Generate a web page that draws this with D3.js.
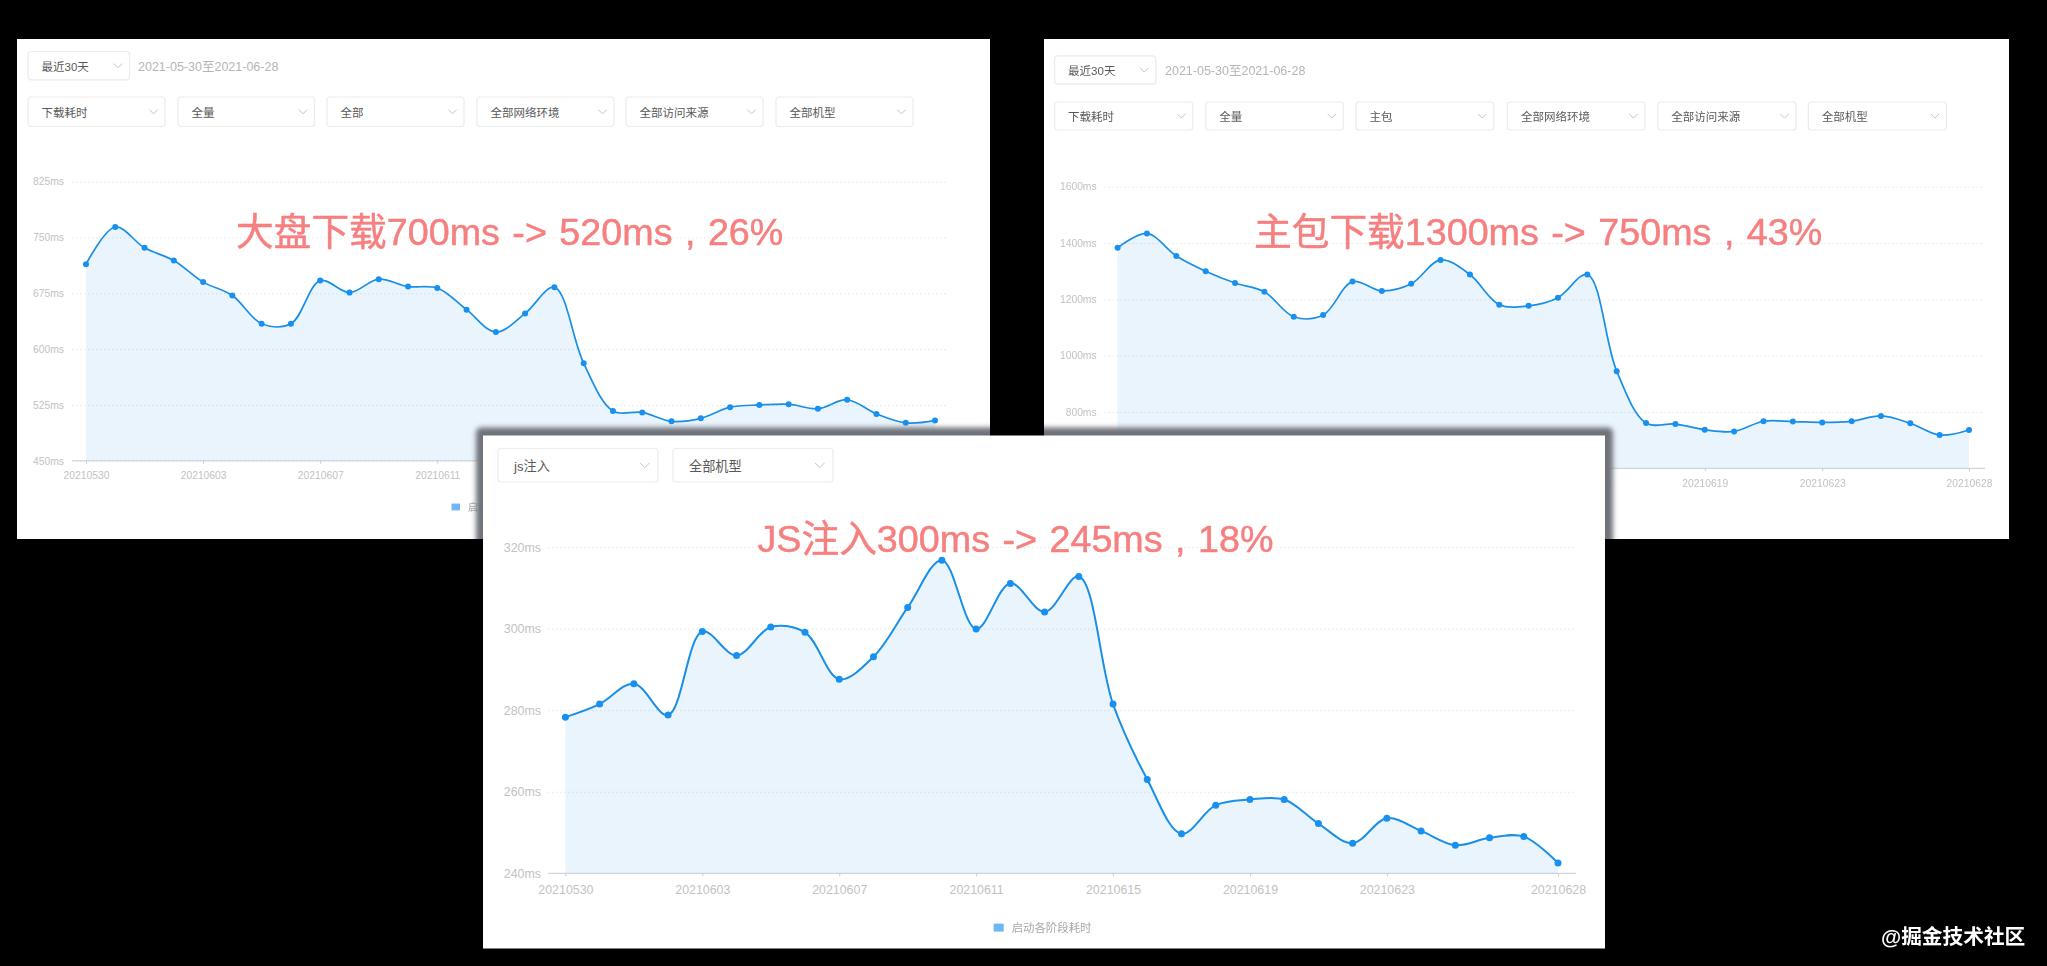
<!DOCTYPE html>
<html><head><meta charset="utf-8">
<script src="https://cdn.jsdelivr.net/npm/d3@7"></script>
<style>html,body{margin:0;padding:0;background:#000;overflow:hidden}svg{display:block;filter:blur(0.45px)}
text{font-family:"Liberation Sans","Noto Sans CJK SC",sans-serif}</style></head>
<body><svg id="c" width="2047" height="966"></svg>
<script>
const dates=["20210530","20210531","20210601","20210602","20210603","20210604","20210605","20210606","20210607","20210608","20210609","20210610","20210611","20210612","20210613","20210614","20210615","20210616","20210617","20210618","20210619","20210620","20210621","20210622","20210623","20210624","20210625","20210626","20210627","20210628"];
const xTickLabels=["20210530","20210603","20210607","20210611","20210615","20210619","20210623","20210628"];
const seriesName="启动各阶段耗时";
const dateRange="2021-05-30至2021-06-28";
const periodFilter="最近30天";

const overallValues=[714,764,736,719,690,672,634,634,692,676,694,684,682,653,623,648,683,581,517,515,503,507,522,525,526,520,532,513,501,504];
const overallTicks=[450,525,600,675,750,825];
const overallFilters=["下载耗时","全量","全部","全部网络环境","全部访问来源","全部机型"];
const overallNote="大盘下载700ms -> 520ms , 26%";

const mainValues=[1383,1434,1354,1300,1258,1227,1138,1144,1263,1230,1255,1340,1288,1181,1177,1206,1288,945,761,757,737,731,767,766,763,767,786,760,718,736];
const mainTicks=[600,800,1000,1200,1400,1600];
const mainFilters=["下载耗时","全量","主包","全部网络环境","全部访问来源","全部机型"];
const mainNote="主包下载1300ms -> 750ms , 43%";

const jsValues=[278.3,281.5,286.5,278.8,299.3,293.4,300.4,299.1,287.6,293.1,305.2,316.8,299.9,311.1,304.1,312.8,281.5,263,249.7,256.7,258.1,258.1,252.2,247.4,253.5,250.4,246.9,248.7,249,242.5];
const jsTicks=[240,260,280,300,320];
const jsFilters=["js注入","全部机型"];
const jsNote="JS注入300ms -> 245ms , 18%";

const svg=d3.select("#c");
const defs=svg.append("defs");
defs.append("filter").attr("id","sh").attr("x","-5%").attr("y","-8%").attr("width","110%").attr("height","116%")
  .append("feGaussianBlur").attr("stdDeviation",2.8);
const clip=defs.append("clipPath").attr("id","onPanels");

function dropdown(g,x0,x1,y0,y1,label,fs,textX){
  g.append("rect").attr("x",x0).attr("y",y0).attr("width",x1-x0).attr("height",y1-y0).attr("rx",3)
    .attr("fill","#fff").attr("stroke","#ececec").attr("stroke-width",1.2);
  g.append("text").attr("x",textX).attr("y",(y0+y1)/2+1).attr("dy","0.36em").attr("font-size",fs).attr("fill","#595959").text(label);
  const cx=x1-fs, w=fs*0.36;
  const cy=(y0+y1)/2;
  g.append("path").attr("d",`M${cx-w},${cy-w*0.5}L${cx},${cy+w*0.5}L${cx+w},${cy-w*0.5}`)
    .attr("fill","none").attr("stroke","#c4c4c4").attr("stroke-width",1);
}

function panel(o){
  const g=svg.append("g");
  const [L,T,R,B]=o.box;
  if(o.shadow){
    g.append("g").attr("clip-path","url(#onPanels)").append("rect")
      .attr("x",L-7).attr("y",T-8).attr("width",R-L+15).attr("height",B-T+16).attr("rx",5)
      .attr("fill","#6e7279").attr("filter","url(#sh)");
  } else {
    clip.append("rect").attr("x",L).attr("y",T).attr("width",R-L).attr("height",B-T);
  }
  g.append("rect").attr("x",L).attr("y",T).attr("width",R-L).attr("height",B-T).attr("fill","#fff");

  o.rows.forEach(r=>r.items.forEach((it,i)=>dropdown(g,it[0],it[1],r.y0,r.y1,r.labels[i],o.filterFs,it[0]+o.filterPad)));
  if(o.dateX) g.append("text").attr("x",o.dateX).attr("y",o.dateY).attr("dy","0.36em").attr("font-size",12.5).attr("fill","#b5b5b5").text(dateRange);

  const x=d3.scalePoint().domain(dates).range(o.xr);
  const y=d3.scaleLinear().domain([o.ticks[0],o.ticks[o.ticks.length-1]]).range(o.yr);

  const data=o.values.map((v,i)=>({d:dates[i],v}));
  const curve=d3.curveCatmullRom.alpha(0.5);

  // grid + y axis
  const ya=g.append("g").attr("transform",`translate(${o.gridX[0]},0)`)
    .call(d3.axisLeft(y).tickValues(o.ticks).tickFormat(d=>d+"ms").tickSize(-(o.gridX[1]-o.gridX[0])).tickPadding(o.yPad));
  ya.select(".domain").remove();
  ya.selectAll("line").attr("stroke","#e6e6e6").attr("stroke-dasharray","1.5 2.5");
  ya.selectAll("text").attr("fill","#c2c2c2").attr("font-size",o.tickFs);

  g.append("path").datum(data).attr("fill","rgb(24,135,235)").attr("fill-opacity",0.09)
    .attr("d",d3.area().x(d=>x(d.d)).y0(y(o.ticks[0])).y1(d=>y(d.v)).curve(curve));

  // x axis
  const xa=g.append("g").attr("transform",`translate(0,${o.yr[0]})`)
    .call(d3.axisBottom(x).tickValues(xTickLabels).tickSize(3).tickPadding(o.xPad).tickSizeOuter(0));
  xa.select(".domain").remove();
  g.append("line").attr("x1",o.gridX[0]).attr("x2",o.gridX[1]).attr("y1",y(o.ticks[0])).attr("y2",y(o.ticks[0])).attr("stroke","#c5ced8").attr("stroke-width",1);
  xa.selectAll("line").attr("stroke","#c5ced8");
  xa.selectAll("text").attr("fill","#c2c2c2").attr("font-size",o.tickFs);

  g.append("path").datum(data).attr("fill","none").attr("stroke","#1a8fe6").attr("stroke-width",o.lw)
    .attr("d",d3.line().x(d=>x(d.d)).y(d=>y(d.v)).curve(curve));
  g.selectAll("circle").data(data).join("circle").attr("cx",d=>x(d.d)).attr("cy",d=>y(d.v)).attr("r",o.r).attr("fill","#1890f0");

  // legend
  g.append("rect").attr("x",o.legend[0]).attr("y",o.legend[1]-o.legendS*0.4).attr("width",o.legendS).attr("height",o.legendS*0.8).attr("fill","#6fb6f6");
  g.append("text").attr("x",o.legend[0]+o.legendS+8).attr("y",o.legend[1]).attr("dy","0.36em").attr("font-size",o.legendFs).attr("fill","#a8a8a8").text(seriesName);
}

panel({box:[17,39,990,539],values:overallValues,ticks:overallTicks,xr:[86,935],yr:[460.8,181.6],gridX:[72,947],
  rows:[{y0:51.5,y1:79.8,items:[[28,129.5]],labels:[periodFilter]},
        {y0:97,y1:126.5,items:[[28,165],[178,314.5],[327,464],[477,614],[626,763],[776,913]],labels:overallFilters}],
  filterFs:11.5,filterPad:13.5,dateX:138,dateY:66,tickFs:10.3,yPad:8,xPad:8,lw:1.7,r:3,legend:[451.5,507],legendS:8.5,legendFs:10});

panel({box:[1044,39,2009,539],values:mainValues,ticks:mainTicks,xr:[1117.6,1969],yr:[468.3,186.7],gridX:[1104.6,1985],
  rows:[{y0:55.8,y1:84.2,items:[[1054.6,1155.8]],labels:[periodFilter]},
        {y0:102,y1:130,items:[[1054.6,1192.8],[1205.8,1343.3],[1356,1493.8],[1507.4,1644.9],[1657.8,1796],[1808.3,1946.5]],labels:mainFilters}],
  filterFs:11.5,filterPad:13.5,dateX:1165,dateY:70,tickFs:10.3,yPad:8,xPad:8,lw:1.7,r:3,legend:[1474,507],legendS:8.5,legendFs:10});

panel({shadow:true,box:[483,435.5,1605,948.5],values:jsValues,ticks:jsTicks,xr:[565.4,1558],yr:[873.3,547.1],gridX:[548,1576],
  rows:[{y0:448.5,y1:482,items:[[498,658],[673,833]],labels:jsFilters}],
  filterFs:13.2,filterPad:16,tickFs:12.4,yPad:7,xPad:9,lw:2,r:3.5,legend:[993.7,927.6],legendS:10,legendFs:11.4});

// annotations
const notes=[[overallNote,236,231],[mainNote,1254,231],[jsNote,757.5,538]];
svg.selectAll("text.note").data(notes).join("text").attr("class","note")
  .attr("x",d=>d[1]).attr("y",d=>d[2]).attr("dy","0.36em").attr("font-size",37.7)
  .attr("word-spacing",2).attr("fill","#f67f7f").attr("stroke","#f67f7f").attr("stroke-width",0.5)
  .text(d=>d[0]);

svg.append("text").attr("x",1881).attr("y",937).attr("dy","0.36em").attr("font-size",20.7).attr("font-weight",700)
  .attr("fill","#fff").text("@掘金技术社区");
</script></body></html>
